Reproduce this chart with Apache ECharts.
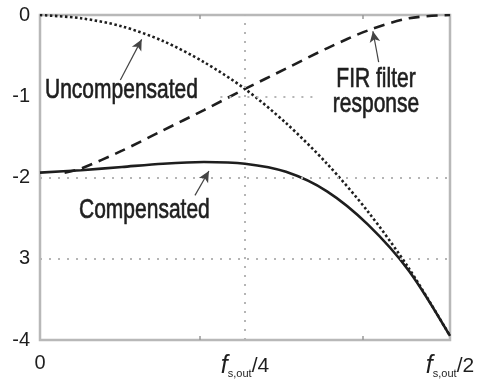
<!DOCTYPE html>
<html>
<head>
<meta charset="utf-8">
<script src="https://cdn.jsdelivr.net/npm/echarts@6/dist/echarts.min.js"></script>
<style>
  html, body { margin: 0; padding: 0; background: #fff; }
  #chart { width: 485px; height: 381px; }
</style>
</head>
<body>
<div id="chart"></div>
<script>
// frequency response droop / compensation

var freq = [0, 0.05, 0.1, 0.15, 0.2, 0.25, 0.3, 0.35, 0.4, 0.45, 0.5];
var uncompensated = [0, -0.04, -0.14, -0.32, -0.58, -0.91, -1.33, -1.83, -2.42, -3.12, -3.95];
var compensated = [-1.94, -1.91, -1.87, -1.83, -1.81, -1.83, -1.93, -2.17, -2.58, -3.15, -3.95];
var firFreq = [0.03, 0.05, 0.1, 0.15, 0.2, 0.25, 0.3, 0.35, 0.4, 0.45, 0.5];
var firResponse = [-1.94, -1.89, -1.67, -1.42, -1.17, -0.91, -0.66, -0.41, -0.19, -0.04, 0];

var xTickValues = [0, 0.25, 0.5];
var xTickLabels = ['0', '{f|f}{s|s,out}{n|/4}', '{f|f}{s|s,out}{n|/2}'];
var yTickValues = [-4, -3, -2, -1, 0];
var yTickLabels = ['-4', '3', '-2', '-1', '0'];

function pairs(xs, ys) {
    return xs.map(function (x, i) { return [x, ys[i]]; });
}

var dom = document.getElementById('chart');
var myChart = echarts.init(dom);
var option;

var ink = '#1e1e1e';
var gridDots = { color: '#b5b5b5', width: 2, type: [2, 7] };
var textFont = '21px "Liberation Sans", Arial, sans-serif';

option = {
    animation: false,
    backgroundColor: '#fff',
    grid: {
        left: 40, right: 35, top: 15, bottom: 41,
        show: true,
        borderColor: '#b8b8b8',
        borderWidth: 2.5
    },
    xAxis: {
        type: 'value',
        min: 0, max: 0.5, interval: 0.25,
        axisLine: { show: false },
        axisTick: { show: false },
        splitLine: { show: false },
        axisLabel: {
            margin: 13,
            color: ink,
            fontSize: 20,
            fontFamily: 'Liberation Sans',
            formatter: function (v) {
                var i = xTickValues.indexOf(Math.round(v * 100) / 100);
                return i >= 0 ? xTickLabels[i] : '';
            },
            rich: {
                f: { fontSize: 25, fontStyle: 'italic', fontFamily: 'Liberation Sans', color: ink },
                s: { fontSize: 11, fontFamily: 'Liberation Sans', color: ink, padding: [15, 0, 0, 0] },
                n: { fontSize: 21, fontFamily: 'Liberation Sans', color: ink }
            }
        }
    },
    yAxis: {
        type: 'value',
        min: -4, max: 0, interval: 1,
        axisLine: { show: false },
        axisTick: { show: false },
        splitLine: { show: false },
        axisLabel: {
            margin: 10,
            color: ink,
            fontSize: 20,
            fontFamily: 'Liberation Sans',
            formatter: function (v) {
                var i = yTickValues.indexOf(Math.round(v));
                return i >= 0 ? yTickLabels[i] : '';
            }
        }
    },
    series: [
        {
            name: 'Uncompensated',
            type: 'line',
            smooth: 0.3,
            showSymbol: false,
            data: pairs(freq, uncompensated),
            lineStyle: { color: ink, width: 2.6, type: [2.5, 2.5] },
            z: 3,
            markLine: {
                silent: true,
                symbol: 'none',
                label: { show: false },
                lineStyle: gridDots,
                data: [
                    { yAxis: -2 },
                    { yAxis: -3 },
                    { xAxis: 0.25 },
                    [{ coord: [0.22, -1] }, { coord: [0.337, -1] }],
                    // small inward ticks on top and bottom frame
                    [{ coord: [0.195, -4], lineStyle: { type: 'solid', color: '#999', width: 1.5 } }, { coord: [0.195, -3.95] }],
                    [{ coord: [0.393, -4], lineStyle: { type: 'solid', color: '#999', width: 1.5 } }, { coord: [0.393, -3.95] }],
                    [{ coord: [0.195, 0], lineStyle: { type: 'solid', color: '#999', width: 1.5 } }, { coord: [0.195, -0.05] }],
                    [{ coord: [0.393, 0], lineStyle: { type: 'solid', color: '#999', width: 1.5 } }, { coord: [0.393, -0.05] }]
                ]
            }
        },
        {
            name: 'FIR filter response',
            type: 'line',
            smooth: 0.3,
            showSymbol: false,
            data: pairs(firFreq, firResponse),
            lineStyle: { color: ink, width: 2.6, type: [11, 7] },
            z: 3
        },
        {
            name: 'Compensated',
            type: 'line',
            smooth: 0.3,
            showSymbol: false,
            data: pairs(freq, compensated),
            lineStyle: { color: ink, width: 2.6 },
            z: 4,
            // annotation arrows
            markLine: {
                silent: true,
                symbol: ['none', 'arrow'],
                symbolSize: [8, 11],
                label: { show: false },
                lineStyle: { color: '#444', width: 1.2, type: 'solid' },
                data: [
                    [{ coord: [0.098, -0.8] }, { coord: [0.124, -0.3] }],
                    [{ coord: [0.413, -0.58] }, { coord: [0.406, -0.2] }],
                    [{ coord: [0.189, -2.22] }, { coord: [0.206, -1.92] }]
                ]
            }
        }
    ],
    graphic: [
        {
            type: 'text', x: 45, y: 77, scaleY: 1.3, z: 10,
            style: { text: 'Uncompensated', font: textFont, fill: ink, stroke: ink, lineWidth: 0.5, textVerticalAlign: 'top' }
        },
        {
            type: 'text', x: 376, y: 67, scaleY: 1.3, z: 10,
            style: { text: 'FIR filter\nresponse', font: textFont, fill: ink, stroke: ink, lineWidth: 0.5, textAlign: 'center', textVerticalAlign: 'top', lineHeight: 19 }
        },
        {
            type: 'text', x: 79, y: 197, scaleY: 1.3, z: 10,
            style: { text: 'Compensated', font: textFont, fill: ink, stroke: ink, lineWidth: 0.5, textVerticalAlign: 'top' }
        }
    ]
};

if (option && typeof option === 'object') {
    myChart.setOption(option);
}
</script>
</body>
</html>
